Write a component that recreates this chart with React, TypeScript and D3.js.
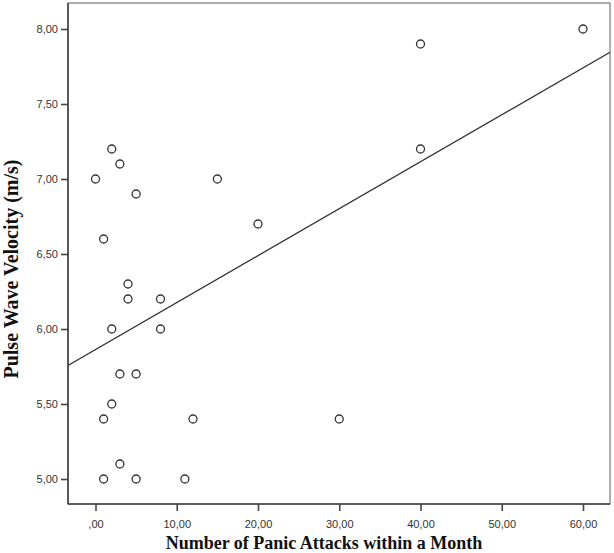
import React, { useEffect, useRef } from 'react';
import * as d3 from 'd3';

// panic attacks per month and pulse wave velocity (m/s)
const attacks = [2, 3, 0, 5, 1, 4, 4, 8, 2, 8, 3, 5, 2, 1, 12, 3, 1, 5, 11, 15, 20, 30, 40, 40, 60];
const pwv = [7.2, 7.1, 7.0, 6.9, 6.6, 6.3, 6.2, 6.2, 6.0, 6.0, 5.7, 5.7, 5.5, 5.4, 5.4, 5.1, 5.0, 5.0, 5.0, 7.0, 6.7, 5.4, 7.9, 7.2, 8.0];
const xTicks = [0, 10, 20, 30, 40, 50, 60];
const yTicks = [5, 5.5, 6, 6.5, 7, 7.5, 8];

const fmt = (v: number) => {
  const s = v.toFixed(2).replace('.', ',');
  return s.startsWith('0') ? s.slice(1) : s;
};

const App = () => {
  const chartRef = useRef<HTMLDivElement>(null);

  useEffect(() => {
    const width = 614;
    const height = 553;
    const left = 68, right = 610, top = 3, bottom = 504;

    d3.select(chartRef.current).selectAll('svg').remove();

    const svg = d3.select(chartRef.current)
      .append('svg')
      .attr('width', width)
      .attr('height', height)
      .style('position', 'absolute')
      .style('left', '0px')
      .style('top', '0px')
      .style('background', '#fff');

    const x = d3.scaleLinear().domain([0, 60]).range([95.5, 583]);
    const y = d3.scaleLinear().domain([5, 8]).range([479, 29]);

    // frame (top and right sides)
    svg.append('rect')
      .attr('x', left)
      .attr('y', top)
      .attr('width', right - left)
      .attr('height', bottom - top)
      .attr('fill', 'none')
      .attr('stroke', '#777')
      .attr('stroke-width', 1.2);

    svg.append('clipPath').attr('id', 'plot-clip')
      .append('rect')
      .attr('x', left).attr('y', top)
      .attr('width', right - left).attr('height', bottom - top);

    // least squares fit line
    const mx = d3.mean(attacks) as number;
    const my = d3.mean(pwv) as number;
    const sxy = d3.sum(attacks, (d, i) => (d - mx) * (pwv[i] - my));
    const sxx = d3.sum(attacks, d => (d - mx) * (d - mx));
    const slope = sxy / sxx;
    const icpt = my - slope * mx;
    const x0 = x.invert(left), x1 = x.invert(right);

    svg.append('line')
      .attr('clip-path', 'url(#plot-clip)')
      .attr('x1', x(x0)).attr('y1', y(icpt + slope * x0))
      .attr('x2', x(x1)).attr('y2', y(icpt + slope * x1))
      .attr('stroke', '#333')
      .attr('stroke-width', 1.3);

    svg.append('g')
      .selectAll('circle')
      .data(attacks)
      .enter()
      .append('circle')
      .attr('cx', d => x(d))
      .attr('cy', (d, i) => y(pwv[i]))
      .attr('r', 4)
      .attr('fill', '#fff')
      .attr('stroke', '#333')
      .attr('stroke-width', 1.3);

    // axes
    const xAxis = svg.append('g')
      .attr('transform', `translate(0,${bottom})`)
      .call(d3.axisBottom(x).tickValues(xTicks).tickSize(7).tickSizeOuter(0).tickFormat(d => fmt(+d)));
    xAxis.select('.domain').attr('d', `M${left},0H${right}`);

    const yAxis = svg.append('g')
      .attr('transform', `translate(${left},0)`)
      .call(d3.axisLeft(y).tickValues(yTicks).tickSize(7).tickSizeOuter(0).tickFormat(d => fmt(+d)));
    yAxis.select('.domain').attr('d', `M0,${top}V${bottom}`);

    [xAxis, yAxis].forEach(a => {
      a.select('.domain').attr('stroke', '#444').attr('stroke-width', 1.6);
      a.selectAll('.tick line').attr('stroke', '#444').attr('stroke-width', 1.6);
      a.selectAll('.tick text')
        .attr('fill', '#333')
        .style('font-family', '"Liberation Sans", Arial, sans-serif')
        .style('font-size', '11px');
    });
    xAxis.selectAll('.tick text').attr('dy', '1.25em');
    yAxis.selectAll('.tick text').attr('x', -10);

    svg.append('text')
      .attr('x', 324)
      .attr('y', 549)
      .attr('text-anchor', 'middle')
      .attr('fill', '#111')
      .style('font-family', '"Liberation Serif", "Times New Roman", serif')
      .style('font-weight', 'bold')
      .style('font-size', '18px')
      .text('Number of Panic Attacks within a Month');

    svg.append('text')
      .attr('transform', `translate(18,269) rotate(-90)`)
      .attr('text-anchor', 'middle')
      .attr('fill', '#111')
      .style('font-family', '"Liberation Serif", "Times New Roman", serif')
      .style('font-weight', 'bold')
      .style('font-size', '20px')
      .text('Pulse Wave Velocity (m/s)');
  }, []);

  return (
    <>
      <div ref={chartRef}></div>
    </>
  );
};

export default App;
